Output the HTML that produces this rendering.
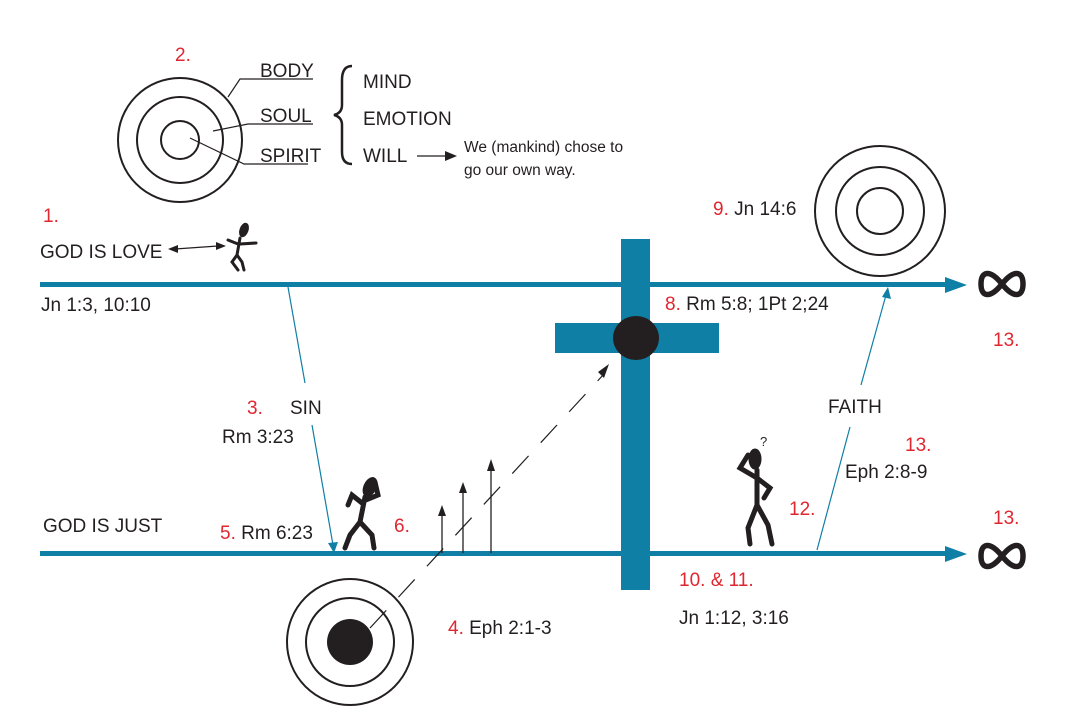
<!DOCTYPE html>
<html><head><meta charset="utf-8"><style>
html,body{margin:0;padding:0;background:#fff}
svg{display:block}
text{font-family:"Liberation Sans",sans-serif;font-size:19px;fill:#231f20}
.r{fill:#e0262f}
</style></head><body>
<svg width="1075" height="726" viewBox="0 0 1075 726">
<!-- top circles -->
<g fill="none" stroke="#231f20" stroke-width="2">
<circle cx="180" cy="140" r="62"/><circle cx="180" cy="140" r="43"/><circle cx="180" cy="140" r="19"/>
<circle cx="880" cy="211" r="65"/><circle cx="880" cy="211" r="44"/><circle cx="880" cy="211" r="23"/>
<circle cx="350" cy="642" r="63"/><circle cx="350" cy="642" r="44"/>
</g>
<circle cx="350" cy="642" r="23" fill="#231f20"/>
<g stroke="#231f20" stroke-width="1.2" fill="none">
<polyline points="228,97 240,79 313,79"/>
<polyline points="213,131 248,124 313,124"/>
<polyline points="190,138 244,164 308,164"/>
<path d="M352,66 Q342,66 342,80 L342,105 Q342,113 334,115 Q342,117 342,125 L342,152 Q342,164 352,164" stroke-width="2.5"/>
<line x1="417" y1="156" x2="445" y2="156"/>
</g>
<path d="M445,151 L457,156 L445,161Z" fill="#231f20"/>
<text x="175" y="61" class="r">2.</text>
<text x="260" y="77">BODY</text>
<text x="260" y="122">SOUL</text>
<text x="260" y="162">SPIRIT</text>
<text x="363" y="88">MIND</text>
<text x="363" y="125">EMOTION</text>
<text x="363" y="162">WILL</text>
<text x="464" y="152" style="font-size:15.5px">We (mankind) chose to</text>
<text x="464" y="175" style="font-size:15.5px">go our own way.</text>

<!-- main lines -->
<g fill="#0f7fa5">
<rect x="40" y="282" width="910" height="5"/>
<path d="M945,277 L967,285 L945,293Z"/>
<rect x="40" y="551" width="910" height="5"/>
<path d="M945,546 L967,554 L945,562Z"/>
<rect x="621" y="239" width="29" height="351"/>
<rect x="555" y="323" width="164" height="30"/>
</g>
<ellipse cx="636" cy="338" rx="23" ry="22" fill="#231f20"/>
<g fill="none" stroke="#231f20" stroke-width="5.5">
<path d="M1002,284 C990,269 981,271 981,284 C981,297 990,299 1002,284 C1014,269 1023,271 1023,284 C1023,297 1014,299 1002,284Z"/>
<path d="M1002,556 C990,541 981,543 981,556 C981,569 990,571 1002,556 C1014,541 1023,543 1023,556 C1023,569 1014,571 1002,556Z"/>
</g>

<!-- sin & faith -->
<g stroke="#0f7fa5" stroke-width="1.2">
<line x1="288" y1="287" x2="305" y2="383"/>
<line x1="312" y1="425" x2="333" y2="545"/>
<line x1="817" y1="550" x2="850" y2="427"/>
<line x1="861" y1="385" x2="886" y2="295"/>
</g>
<path d="M328,543 L334,553 L338,542Z" fill="#0f7fa5"/>
<path d="M882,297 L888,287 L891,299Z" fill="#0f7fa5"/>

<!-- dashed & small arrows -->
<line x1="370" y1="628" x2="604" y2="374" stroke="#231f20" stroke-width="1.2" stroke-dasharray="24,18"/>
<path d="M598,372 L609,364 L604,378Z" fill="#231f20"/>
<g stroke="#231f20" stroke-width="1.3">
<line x1="442" y1="553" x2="442" y2="515"/>
<line x1="463" y1="553" x2="463" y2="492"/>
<line x1="491" y1="553" x2="491" y2="470"/>
</g>
<g fill="#231f20">
<path d="M438,516 L442,505 L446,516Z"/>
<path d="M459,493 L463,482 L467,493Z"/>
<path d="M487,471 L491,459 L495,471Z"/>
</g>
<!-- god is love arrow -->
<line x1="175" y1="249" x2="218" y2="246" stroke="#231f20" stroke-width="1.3"/>
<path d="M168,249 L178,245 L178,253Z M226,246 L216,242 L216,250Z" fill="#231f20"/>

<!-- stick figures -->
<g fill="#231f20" stroke="#231f20" stroke-linecap="round">
<ellipse cx="244" cy="230" rx="4" ry="7" transform="rotate(20 244 230)"/>
<path d="M240,238 L237,255 L232,262 L238,270 M237,255 L242,262 L244,270 M238,244 L228,240 M240,244 L256,243" stroke-width="3" fill="none"/>
<ellipse cx="370" cy="487" rx="6" ry="10" transform="rotate(25 370 487)"/>
<path d="M365,497 L360,522 L350,535 L345,548 M360,522 L372,535 L374,548 M362,503 L352,495 L348,505 M366,500 L378,495 L375,482" stroke-width="5" fill="none"/>
<ellipse cx="755" cy="459" rx="6" ry="10"/>
<path d="M757,470 L757,505 L748,528 L750,544 M757,505 L768,525 L772,544 M757,478 L740,468 L748,455 M757,478 L770,488 L764,498" stroke-width="5" fill="none"/>
</g>
<text x="760" y="446" style="font-size:13px">?</text>

<!-- labels -->
<text x="43" y="222" class="r">1.</text>
<text x="40" y="258">GOD IS LOVE</text>
<text x="41" y="311">Jn 1:3, 10:10</text>
<text x="247" y="414" class="r">3.</text>
<text x="290" y="414">SIN</text>
<text x="222" y="443">Rm 3:23</text>
<text x="43" y="532">GOD IS JUST</text>
<text x="220" y="539"><tspan class="r">5.</tspan> Rm 6:23</text>
<text x="394" y="532" class="r">6.</text>
<text x="448" y="634"><tspan class="r">4.</tspan>  Eph 2:1-3</text>
<text x="665" y="310"><tspan class="r">8.</tspan> Rm 5:8; 1Pt 2;24</text>
<text x="713" y="215"><tspan class="r">9.</tspan> Jn 14:6</text>
<text x="993" y="346" class="r">13.</text>
<text x="828" y="413">FAITH</text>
<text x="905" y="451" class="r">13.</text>
<text x="845" y="478">Eph 2:8-9</text>
<text x="789" y="515" class="r">12.</text>
<text x="993" y="524" class="r">13.</text>
<text x="679" y="586" class="r">10. &amp; 11.</text>
<text x="679" y="624">Jn 1:12, 3:16</text>
</svg>
</body></html>
